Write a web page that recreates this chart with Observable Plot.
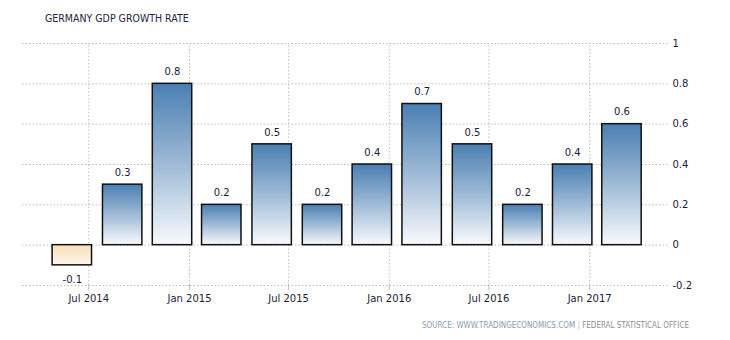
<!DOCTYPE html>
<html>
<head>
<meta charset="utf-8">
<script src="https://cdn.jsdelivr.net/npm/d3@7"></script>
<script src="https://cdn.jsdelivr.net/npm/@observablehq/plot@0.6"></script>
<style>
  body { margin: 0; background: #fff; }
  #wrap { position: relative; width: 730px; height: 340px; overflow: hidden; font-family: "DejaVu Sans", sans-serif; }
  #title { position: absolute; left: 45px; top: 12px; font-family: "DejaVu Sans Condensed", "DejaVu Sans", sans-serif; font-size: 10.5px; color: #232345; white-space: nowrap; }
  #source { position: absolute; left: 422px; top: 321px; font-family: "DejaVu Sans Condensed", "DejaVu Sans", sans-serif; font-size: 8px; color: #8a9ab0; white-space: nowrap; }
  #source .sep { color: #a9c4de; }
  #source .org { color: #8e8e8e; }
  #chart { position: absolute; left: 0; top: 0; }
</style>
</head>
<body>
<div id="wrap">
  <div id="chart"></div>
  <div id="title">GERMANY GDP GROWTH RATE</div>
  <div id="source">SOURCE: WWW.TRADINGECONOMICS.COM <span class="sep">|</span> <span class="org">FEDERAL STATISTICAL OFFICE</span></div>
</div>
<script>
// Quarter bars (dated as drawn on the chart), GDP growth rate QoQ (%)
const periods = ["2014-06-01","2014-09-01","2014-12-01","2015-03-01","2015-06-01","2015-09-01",
                 "2015-12-01","2016-03-01","2016-06-01","2016-09-01","2016-12-01","2017-03-01"];
const values = [-0.1, 0.3, 0.8, 0.2, 0.5, 0.2, 0.4, 0.7, 0.5, 0.2, 0.4, 0.6];
const xTicks = ["2014-07-01","2015-01-01","2015-07-01","2016-01-01","2016-07-01","2017-01-01"];
const yTicks = [-0.2, 0, 0.2, 0.4, 0.6, 0.8, 1];

const data = periods.map((p, i) => ({date: new Date(p), value: values[i]}));
const xTickDates = xTicks.map(d => new Date(d));
const halfWidth = 36 * 864e5;

const defs = () => {
  const d = document.createElementNS("http://www.w3.org/2000/svg", "defs");
  d.innerHTML = `
    <linearGradient id="gPos" x1="0" y1="0" x2="0" y2="1">
      <stop offset="0" stop-color="#4a7fb3"/>
      <stop offset="0.5" stop-color="#9ebad6"/>
      <stop offset="1" stop-color="#f8fafd"/>
    </linearGradient>
    <linearGradient id="gNeg" x1="0" y1="0" x2="0" y2="1">
      <stop offset="0" stop-color="#f8e0b9"/>
      <stop offset="1" stop-color="#fdf6ec"/>
    </linearGradient>`;
  return d;
};

const chart = Plot.plot({
  width: 730,
  height: 340,
  marginLeft: 22,
  marginRight: 62,
  marginTop: 43,
  marginBottom: 55,
  style: {fontFamily: "DejaVu Sans, sans-serif", fontSize: "10px", color: "#1c1c38", background: "transparent"},
  x: {type: "utc", domain: [new Date("2014-03-02"), new Date("2017-05-25")]},
  y: {domain: [-0.2, 1]},
  marks: [
    defs,
    Plot.gridY(yTicks, {stroke: "#bdbdbd", strokeOpacity: 1, strokeDasharray: "1.5,2"}),
    Plot.gridX(xTickDates, {stroke: "#bdbdbd", strokeOpacity: 1, strokeDasharray: "1.5,2", y1: -0.2, y2: 1}),
    Plot.axisY(yTicks, {anchor: "right", tickSize: 0, tickPadding: 4, tickFormat: d => String(d), label: null}),
    Plot.axisX(xTickDates, {tickSize: 5, tickPadding: 4, stroke: "#bdbdbd", tickFormat: d3.utcFormat("%b %Y"), label: null}),
    Plot.rectY(data.filter(d => d.value >= 0), {
      x1: d => new Date(+d.date - halfWidth), x2: d => new Date(+d.date + halfWidth),
      y1: 0, y2: "value", fill: "url(#gPos)", stroke: "#111", strokeWidth: 1.5
    }),
    Plot.rectY(data.filter(d => d.value < 0), {
      x1: d => new Date(+d.date - halfWidth), x2: d => new Date(+d.date + halfWidth),
      y1: 0, y2: "value", fill: "url(#gNeg)", stroke: "#111", strokeWidth: 1.5
    }),
    Plot.text(data.filter(d => d.value >= 0), {x: "date", y: "value", text: d => String(d.value), dy: -12, fill: "#1c1c38"}),
    Plot.text(data.filter(d => d.value < 0), {x: "date", y: "value", text: d => String(d.value), dy: 14, fill: "#1c1c38"})
  ]
});
document.getElementById("chart").appendChild(chart);
</script>
</body>
</html>
